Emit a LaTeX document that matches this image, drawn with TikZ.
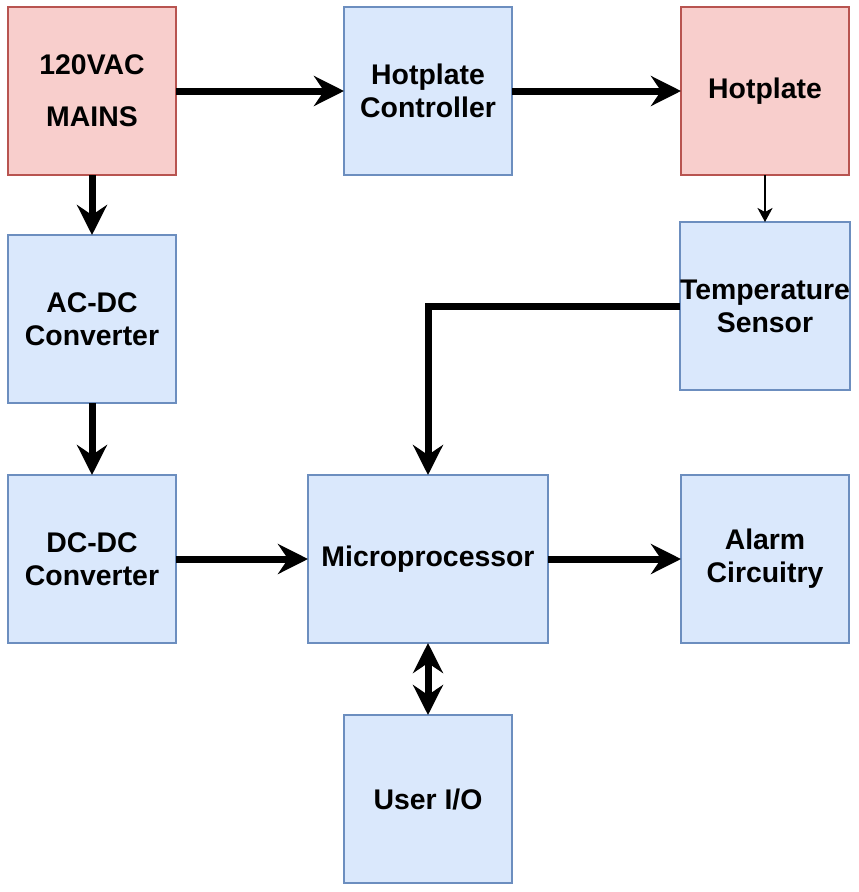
\documentclass[tikz,border=0pt]{standalone}
\usepackage{fontspec}
\setmainfont{Liberation Sans}
\usetikzlibrary{positioning,arrows.meta}
\definecolor{azulfondo}{HTML}{DAE8FC}
\definecolor{azulborde}{HTML}{6C8EBF}
\definecolor{rojofondo}{HTML}{F8CECC}
\definecolor{rojoborde}{HTML}{B85450}
\tikzset{
  caja/.style={draw=azulborde,fill=azulfondo,line width=1.5pt,minimum width=168pt,minimum height=168pt,inner sep=0pt,outer sep=0pt,align=center,font=\fontsize{28.4}{33}\selectfont\bfseries},
  cajaroja/.style={caja,draw=rojoborde,fill=rojofondo},
  flecha/.style={-{Stealth[length=30pt,width=30pt,inset=10pt]},line width=7pt},
  flechadoble/.style={{Stealth[length=30pt,width=30pt,inset=10pt]}-{Stealth[length=30pt,width=30pt,inset=10pt]},line width=7pt},
  flechafina/.style={-{Stealth[length=14pt,width=15pt,inset=4pt]},line width=2pt},
}
\begin{document}
\begin{tikzpicture}[x=1pt,y=-1pt]
  \useasboundingbox (0,0) rectangle (859,892);
  \node[cajaroja] (red) at (92,91) {120VAC\\[19pt]MAINS};
  \node[caja,right=168pt of red] (ctrl) {Hotplate\\Controller};
  \node[cajaroja,right=169pt of ctrl] (placa) {Hotplate};
  \node[caja,below=60pt of red] (acdc) {AC-DC\\Converter};
  \node[caja,below=72pt of acdc] (dcdc) {DC-DC\\Converter};
  \node[caja,below=47pt of placa] (sensor) {Temperature\\Sensor};
  \node[caja,minimum width=240pt,right=132pt of dcdc] (micro) {Microprocessor};
  \node[caja,right=133pt of micro] (alarma) {Alarm\\Circuitry};
  \node[caja,below=72pt of micro] (usuario) {User I/O};
  \draw[flecha] (red) -- (ctrl);
  \draw[flecha] (ctrl) -- (placa);
  \draw[flecha] (red) -- (acdc);
  \draw[flecha] (acdc) -- (dcdc);
  \draw[flechafina] (placa) -- (sensor);
  \draw[flecha] (sensor.west) -| (micro.north);
  \draw[flecha] (dcdc) -- (micro);
  \draw[flecha] (micro) -- (alarma);
  \draw[flechadoble] (micro) -- (usuario);
\end{tikzpicture}
\end{document}
